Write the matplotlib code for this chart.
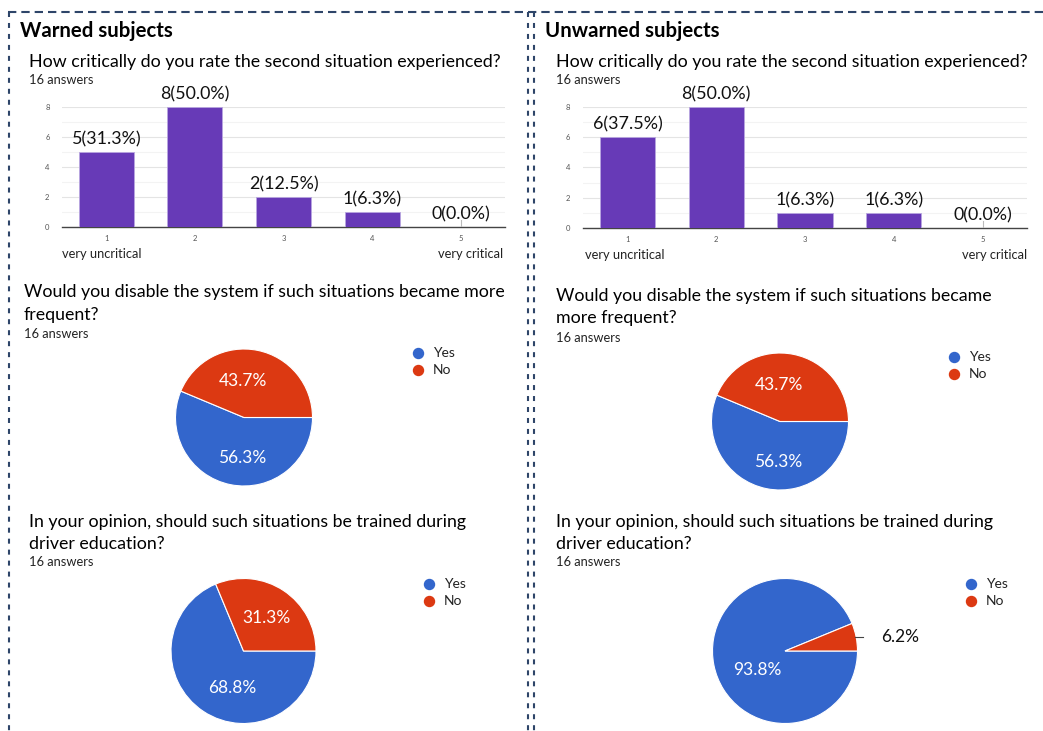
import matplotlib
matplotlib.use("Agg")
import matplotlib.pyplot as plt
from matplotlib.lines import Line2D

W, H, DPI = 1043, 731, 100

# ---- survey results ----
panel_titles = ["Warned subjects", "Unwarned subjects"]
q_rating = "How critically do you rate the second situation experienced?"
q_disable_left = ["Would you disable the system if such situations became more", "frequent?"]
q_disable_right = ["Would you disable the system if such situations became", "more frequent?"]
q_training = ["In your opinion, should such situations be trained during", "driver education?"]
answers_note = "16 answers"

rating_levels = [1, 2, 3, 4, 5]
scale_ends = ["very uncritical", "very critical"]
warned_counts = [5, 8, 2, 1, 0]
warned_pcts = [31.3, 50.0, 12.5, 6.3, 0.0]
unwarned_counts = [6, 8, 1, 1, 0]
unwarned_pcts = [37.5, 50.0, 6.3, 6.3, 0.0]

pie_labels = ["Yes", "No"]
warned_disable = [56.3, 43.7]
unwarned_disable = [56.3, 43.7]
warned_training = [68.8, 31.3]
unwarned_training = [93.8, 6.2]

# ---- style ----
FONT = "Lato"
PURPLE = "#673ab7"
BLUE = "#3366cc"
RED = "#dc3912"
BORDER = "#2e4569"
plt.rcParams["font.family"] = FONT
plt.rcParams["lines.scale_dashes"] = False

fig = plt.figure(figsize=(W / DPI, H / DPI), dpi=DPI)
fig.patch.set_facecolor("white")
renderer = fig.canvas.get_renderer()


def px(x, y):
    return x / W, 1 - y / H


def fitted_size(s, width, weight="normal", base=12):
    t = fig.text(0, 0, s, fontsize=base, fontweight=weight)
    w = t.get_window_extent(renderer).width
    t.remove()
    return base * width / w


def put(x, y, s, size, ha="left", va="baseline", **kw):
    return fig.text(*px(x, y), s, fontsize=size, ha=ha, va=va, **kw)


TITLE_SIZE = fitted_size(panel_titles[0], 152, weight="bold")
Q_SIZE = fitted_size(q_rating, 471)
NOTE_SIZE = fitted_size(answers_note, 64)
BAR_LABEL_SIZE = fitted_size("8(50.0%)", 69)
PIE_LABEL_SIZE = fitted_size("56.3%", 48)
LEG_SIZE = Q_SIZE * 0.78

# ---- dashed frame ----
def dashed(xs, ys, pattern):
    fig.add_artist(Line2D([a / W for a in xs], [1 - b / H for b in ys],
                          color=BORDER, lw=1.5, linestyle=(0, pattern)))

dashed([8, 1043], [12, 12], (6, 3.6))
dashed([9, 9], [12, 731], (3.6, 4.3))
dashed([528, 528], [12, 731], (3.6, 4.3))
dashed([534, 534], [12, 731], (3.6, 4.3))


# ---- bar charts ----
def bar_panel(x0, x1, y_top, y_base, counts, pcts):
    ax = fig.add_axes([x0 / W, 1 - y_base / H, (x1 - x0) / W, (y_base - y_top) / H])
    ax.bar(rating_levels, counts, width=0.62, color=PURPLE,
           edgecolor="#b9a6e0", linewidth=0.6, zorder=3)
    ax.set_xlim(0.5, 5.5)
    ax.set_ylim(0, 8)
    ax.set_yticks([0, 2, 4, 6, 8])
    ax.set_yticks([1, 3, 5, 7], minor=True)
    ax.set_xticks(rating_levels)
    ax.grid(axis="y", which="major", color="#e4e4e4", lw=0.8, zorder=0)
    ax.grid(axis="y", which="minor", color="#f3f3f3", lw=0.8, zorder=0)
    for side in ("top", "right", "left"):
        ax.spines[side].set_visible(False)
    ax.spines["bottom"].set_color("#444444")
    ax.spines["bottom"].set_linewidth(1.0)
    ax.tick_params(axis="y", which="both", length=0, labelsize=5.5,
                   labelcolor="#555555", pad=9)
    ax.tick_params(axis="x", length=0, labelsize=5.5, labelcolor="#555555", pad=6)
    for lvl, c, p in zip(rating_levels, counts, pcts):
        if c == 0:
            ax.plot([lvl, lvl], [0, 0.45], color="#bbbbbb", lw=0.8, zorder=3)
        ax.annotate(f"{c}({p:.1f}%)", (lvl, c), xytext=(0, 3.2),
                    textcoords="offset points", ha="center", va="bottom",
                    fontsize=BAR_LABEL_SIZE, color="#111111", zorder=4)
    return ax


# ---- pie charts ----
def pie_panel(cx, cy, r, values, label_offsets, legend_xy, outside=None):
    ax = fig.add_axes([(cx - r) / W, 1 - (cy + r) / H, 2 * r / W, 2 * r / H])
    wedges, _ = ax.pie(values, colors=[BLUE, RED], startangle=0, counterclock=False,
                       radius=1, wedgeprops=dict(edgecolor="white", linewidth=0.8))
    for w in wedges:
        w.set_clip_on(False)
    ax.set_xlim(-1, 1)
    ax.set_ylim(-1, 1)
    ax.set_aspect("equal")
    ax.axis("off")
    for v, pos in zip(values, label_offsets):
        if pos is None:
            continue
        ax.text(pos[0], pos[1], f"{v:.1f}%", ha="center", va="center", color="white",
                fontsize=PIE_LABEL_SIZE)
    if outside is not None:
        idx, (lx0, lx1, ly), tx = outside
        ax.plot([lx0, lx1], [ly, ly], color="#444444", lw=0.8, clip_on=False)
        ax.text(tx, ly, f"{values[idx]:.1f}%", ha="left", va="center",
                color="#111111", fontsize=PIE_LABEL_SIZE, clip_on=False)
    lx, ly = legend_xy
    for i, (lab, col) in enumerate(zip(pie_labels, [BLUE, RED])):
        yy = ly + i * 17
        fig.add_artist(Line2D([lx / W], [1 - yy / H], marker="o", markersize=7.2,
                              color=col, linestyle="none"))
        put(lx + 15, yy, lab, LEG_SIZE, va="center", color="#222222")


# ---- left panel: warned ----
put(20, 37, panel_titles[0], TITLE_SIZE, fontweight="bold", color="black")
put(29, 67, q_rating, Q_SIZE, color="black")
put(29, 84, answers_note, NOTE_SIZE, color="#222222")
bar_panel(62, 505, 106.5, 226.5, warned_counts, warned_pcts)
put(62, 258, scale_ends[0], NOTE_SIZE * 1.0, color="#222222")
put(503, 258, scale_ends[1], NOTE_SIZE * 1.0, ha="right", color="#222222")

put(24, 297, q_disable_left[0], Q_SIZE, color="black")
put(24, 320, q_disable_left[1], Q_SIZE, color="black")
put(24, 338, answers_note, NOTE_SIZE, color="#222222")
pie_panel(244, 417.5, 68.5, warned_disable, [(-0.03, -0.59), (-0.01, 0.53)], (418, 353))

put(29, 527, q_training[0], Q_SIZE, color="black")
put(29, 549, q_training[1], Q_SIZE, color="black")
put(29, 566, answers_note, NOTE_SIZE, color="#222222")
pie_panel(243.5, 651, 72.5, warned_training, [(-0.15, -0.51), (0.32, 0.455)], (429, 584))

# ---- right panel: unwarned ----
put(545, 37, panel_titles[1], TITLE_SIZE, fontweight="bold", color="black")
put(556, 67, q_rating, Q_SIZE, color="black")
put(556, 84, answers_note, NOTE_SIZE, color="#222222")
bar_panel(583, 1027, 107, 228, unwarned_counts, unwarned_pcts)
put(585, 259, scale_ends[0], NOTE_SIZE * 1.0, color="#222222")
put(1027, 259, scale_ends[1], NOTE_SIZE * 1.0, ha="right", color="#222222")

put(556, 301, q_disable_right[0], Q_SIZE, color="black")
put(556, 323, q_disable_right[1], Q_SIZE, color="black")
put(556, 342, answers_note, NOTE_SIZE, color="#222222")
pie_panel(780, 421.5, 68.5, unwarned_disable, [(-0.03, -0.59), (-0.01, 0.53)], (954, 357))

put(556, 527, q_training[0], Q_SIZE, color="black")
put(556, 549, q_training[1], Q_SIZE, color="black")
put(556, 566, answers_note, NOTE_SIZE, color="#222222")
pie_panel(785, 651, 72.5, unwarned_training, [(-0.38, -0.26), None],
          (971, 584), outside=(1, (0.96, 1.08, 0.2), 1.33))

fig.savefig("out.png", dpi=DPI, facecolor="white")
